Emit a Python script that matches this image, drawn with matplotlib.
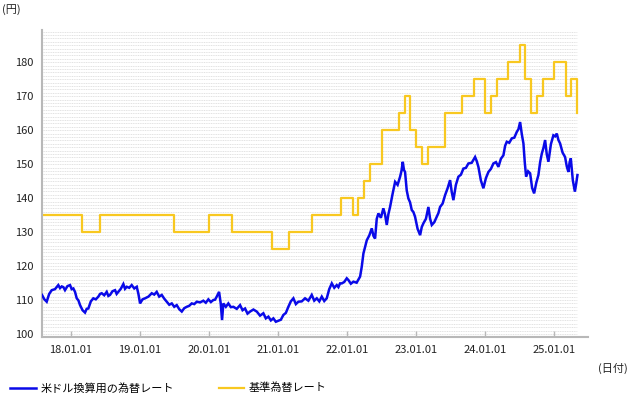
import matplotlib
matplotlib.use("Agg")
import matplotlib.pyplot as plt
import numpy as np

plt.rcParams['font.family'] = ['Noto Sans CJK JP', 'DejaVu Sans']

# 米ドル換算用の為替レート (decimal year, yen)
usd_years = [
    2017.584, 2017.618, 2017.652, 2017.688, 2017.725, 2017.772, 2017.82, 2017.845,
    2017.87, 2017.893, 2017.917, 2017.953, 2017.99, 2018.014, 2018.038, 2018.062,
    2018.087, 2018.111, 2018.135, 2018.171, 2018.207, 2018.231, 2018.255, 2018.291,
    2018.327, 2018.363, 2018.40, 2018.425, 2018.449, 2018.485, 2018.521, 2018.545,
    2018.569, 2018.605, 2018.642, 2018.665, 2018.689, 2018.725, 2018.762, 2018.786,
    2018.811, 2018.847, 2018.883, 2018.92, 2018.956, 2018.98, 2019.004, 2019.04,
    2019.076, 2019.125, 2019.173, 2019.209, 2019.245, 2019.281, 2019.318, 2019.354,
    2019.39, 2019.427, 2019.463, 2019.499, 2019.535, 2019.571, 2019.608, 2019.644,
    2019.68, 2019.716, 2019.752, 2019.789, 2019.825, 2019.873, 2019.92, 2019.956,
    2019.993, 2020.029, 2020.065, 2020.09, 2020.114, 2020.148, 2020.172, 2020.191,
    2020.21, 2020.246, 2020.282, 2020.318, 2020.355, 2020.404, 2020.452, 2020.488,
    2020.524, 2020.56, 2020.597, 2020.645, 2020.694, 2020.741, 2020.789, 2020.825,
    2020.862, 2020.898, 2020.934, 2020.97, 2021.007, 2021.043, 2021.079, 2021.115,
    2021.151, 2021.187, 2021.224, 2021.26, 2021.296, 2021.345, 2021.393, 2021.441,
    2021.49, 2021.526, 2021.563, 2021.599, 2021.635, 2021.671, 2021.707, 2021.743,
    2021.78, 2021.816, 2021.852, 2021.876, 2021.90, 2021.925, 2021.96, 2021.997,
    2022.02, 2022.056, 2022.093, 2022.14, 2022.19, 2022.214, 2022.238, 2022.262,
    2022.287, 2022.323, 2022.359, 2022.383, 2022.407, 2022.431, 2022.455, 2022.491,
    2022.527, 2022.551, 2022.576, 2022.60, 2022.624, 2022.66, 2022.697, 2022.733,
    2022.769, 2022.789, 2022.808, 2022.825, 2022.841, 2022.865, 2022.889, 2022.913,
    2022.938, 2022.962, 2022.986, 2023.022, 2023.059, 2023.083, 2023.107, 2023.143,
    2023.179, 2023.203, 2023.228, 2023.264, 2023.30, 2023.324, 2023.348, 2023.385,
    2023.421, 2023.457, 2023.493, 2023.517, 2023.541, 2023.577, 2023.613, 2023.65,
    2023.686, 2023.722, 2023.758, 2023.806, 2023.855, 2023.879, 2023.903, 2023.939,
    2023.975, 2024.012, 2024.048, 2024.084, 2024.12, 2024.157, 2024.193, 2024.229,
    2024.265, 2024.29, 2024.314, 2024.35, 2024.387, 2024.423, 2024.459, 2024.483,
    2024.507, 2024.531, 2024.555, 2024.575, 2024.594, 2024.623, 2024.652, 2024.681,
    2024.71, 2024.741, 2024.772, 2024.797, 2024.821, 2024.845, 2024.869, 2024.893,
    2024.917, 2024.953, 2024.989, 2025.014, 2025.038, 2025.062, 2025.086, 2025.122,
    2025.158, 2025.182, 2025.206, 2025.224, 2025.241, 2025.27, 2025.30, 2025.32,
    2025.337,
]
usd_rate = [
    111.5, 110.2, 109.5, 111.8, 112.9, 113.2, 114.4, 113.5,
    114.0, 113.8, 112.9, 114.1, 114.4, 113.2, 113.4, 112.4,
    110.5, 109.9, 108.5, 107.0, 106.3, 107.4, 107.5, 109.6,
    110.5, 110.2, 111.0, 111.8, 112.0, 111.4, 112.4, 111.2,
    111.5, 112.6, 112.9, 111.8, 112.4, 113.3, 114.7, 113.3,
    113.9, 113.6, 114.4, 113.4, 113.9, 111.8, 109.0, 110.2,
    110.5, 111.0, 112.0, 111.6, 112.4, 111.0, 111.5, 110.4,
    109.5, 108.6, 109.0, 108.0, 108.5, 107.3, 106.6, 107.6,
    108.0, 108.3, 109.0, 108.8, 109.5, 109.3, 109.8, 109.2,
    110.2, 109.4, 110.0, 110.1, 111.0, 112.4, 109.0, 104.1,
    109.0, 108.0, 109.0, 107.9, 108.0, 107.4, 108.5, 107.0,
    107.5, 106.0, 106.6, 107.2, 106.6, 105.4, 106.1, 104.6,
    105.1, 104.0, 104.6, 103.6, 103.9, 104.2, 105.6, 106.2,
    108.0, 109.6, 110.5, 108.8, 109.5, 109.6, 110.5, 109.8,
    111.5, 109.8, 110.5, 109.6, 111.0, 109.7, 110.5, 113.2,
    114.9, 113.6, 114.4, 113.8, 114.9, 114.9, 115.3, 116.4,
    115.9, 114.8, 115.4, 115.1, 116.9, 119.8, 123.7, 125.6,
    127.6, 129.0, 131.1, 128.9, 128.1, 133.9, 135.5, 134.2,
    137.0, 135.2, 132.1, 135.3, 137.4, 141.2, 144.8, 143.9,
    146.3, 148.0, 150.7, 148.3, 147.7, 142.3, 139.9, 138.8,
    136.5, 135.9, 134.5, 131.0, 129.1, 131.5, 132.6, 133.9,
    137.4, 134.0, 132.1, 132.9, 134.5, 135.6, 137.4, 138.4,
    140.9, 142.9, 145.3, 141.8, 139.4, 143.9, 146.3, 146.9,
    148.7, 148.9, 150.2, 150.4, 152.1, 150.9, 149.2, 145.2,
    142.9, 145.9, 147.7, 148.6, 150.2, 150.6, 149.2, 151.6,
    152.6, 155.4, 156.6, 156.3, 157.6, 157.8, 159.5, 160.3,
    162.4, 158.9, 156.1, 150.4, 146.3, 147.9, 147.3, 143.0,
    141.4, 144.5, 146.8, 150.6, 153.1, 154.8, 157.1, 152.9,
    150.7, 155.9, 158.5, 158.2, 159.0, 157.1, 156.1, 153.4,
    152.1, 149.4, 147.7, 150.6, 151.7, 145.3, 141.9, 144.4,
    146.8,
]

# 基準為替レート (month of change, yen)
base_months = [
    "2017-08", "2018-03", "2018-06", "2019-07", "2020-01", "2020-05", "2020-12",
    "2021-03", "2021-07", "2021-12", "2022-02", "2022-03", "2022-04", "2022-05",
    "2022-07", "2022-10", "2022-11", "2022-12", "2023-01", "2023-02", "2023-03",
    "2023-06", "2023-09", "2023-11", "2024-01", "2024-02", "2024-03", "2024-05",
    "2024-07", "2024-08", "2024-09", "2024-10", "2024-11", "2025-01", "2025-03",
    "2025-04", "2025-05",
]
base_rate = [
    135, 130, 135, 130, 135, 130, 125,
    130, 135, 140, 135, 140, 145, 150,
    160, 165, 170, 160, 155, 150, 155,
    165, 170, 175, 165, 170, 175, 180,
    185, 175, 165, 170, 175, 180, 170,
    175, 165,
]
base_end = 2025.337

x_tick_years = [2018, 2019, 2020, 2021, 2022, 2023, 2024, 2025]
x_tick_labels = ["18.01.01", "19.01.01", "20.01.01", "21.01.01",
                 "22.01.01", "23.01.01", "24.01.01", "25.01.01"]
y_ticks = [100, 110, 120, 130, 140, 150, 160, 170, 180]

def month_to_year(s):
    y, m = s.split("-")
    return int(y) + (int(m) - 1) / 12.0

bx = [max(month_to_year(s), usd_years[0]) for s in base_months] + [base_end]
by = base_rate + [base_rate[-1]]

fig = plt.figure(figsize=(6.3, 4.0), dpi=100)
ax = fig.add_axes([42/630, 1-336.7/400, 546/630, 306.7/400])

xmin, xmax = 2017.584, 2025.49
ax.set_xlim(xmin, xmax)
ax.set_ylim(99.2, 189.5)

# dotted grid every 1 yen up to the end of data
ax.hlines(np.arange(100, 190, 1), xmin, base_end, colors="#d6d6d6",
          linestyles=(0, (1.5, 1.0)), linewidth=0.5, zorder=0)

blue = "#0a0ae8"
yellow = "#f8c820"
l1, = ax.plot(usd_years, usd_rate, color=blue, lw=1.8, zorder=3,
              solid_joinstyle="miter", label="米ドル換算用の為替レート")
l2, = ax.step(bx, by, where="post", color=yellow, lw=1.6, zorder=2,
              label="基準為替レート")

for s in ["top", "right"]:
    ax.spines[s].set_visible(False)
for s in ["left", "bottom"]:
    ax.spines[s].set_color("#b8b8b8")
    ax.spines[s].set_linewidth(1.5)

ax.set_xticks(x_tick_years)
ax.set_xticklabels(x_tick_labels)
ax.set_yticks(y_ticks)
ax.set_yticklabels([str(v) for v in y_ticks])
ax.tick_params(axis="x", direction="in", length=4, width=1, color="#b8b8b8",
               labelsize=8, pad=6, labelcolor="#222222")
ax.tick_params(axis="y", length=0, labelsize=8, pad=6, labelcolor="#222222")

fig.text(2/630, 1-10/400, "(円)", fontsize=8, va="center", ha="left", color="#222222")
fig.text(628/630, 1-368/400, "(日付)", fontsize=8, va="center", ha="right", color="#222222")

fig.legend(handles=[l1, l2], labels=["米ドル換算用の為替レート", "基準為替レート"],
           loc="center left", bbox_to_anchor=(10/630, 1-388/400), ncol=2,
           frameon=False, fontsize=8, handlelength=2.3, handletextpad=0.45,
           columnspacing=4.0, borderaxespad=0, borderpad=0)

fig.savefig("out.png", dpi=100)
